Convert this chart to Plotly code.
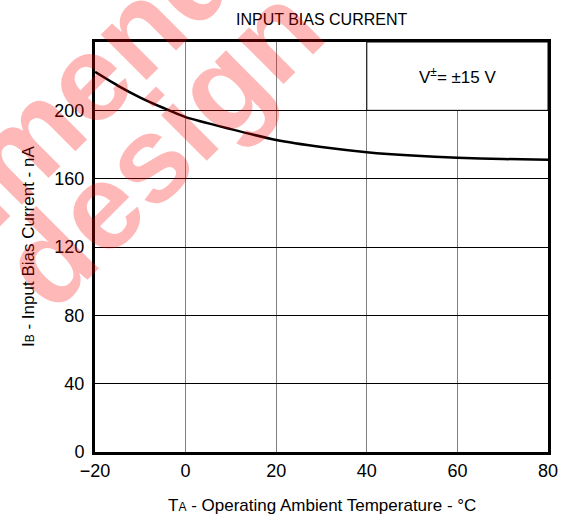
import plotly.graph_objects as go

# Input bias current vs ambient temperature
temp_c = [-20, -15, -10, -5, 0, 10, 20, 30, 40, 50, 60, 70, 80]
bias_na = [222.5, 214.5, 207.5, 201.5, 196.0, 189.0, 182.6, 178.5, 175.5, 173.5, 172.2, 171.5, 171.1]

x_ticks = [-20, 0, 20, 40, 60, 80]
x_tick_text = ["\u221220", "0", "20", "40", "60", "80"]
y_ticks = [0, 40, 80, 120, 160, 200]

FONT = "Arial, Liberation Sans, sans-serif"
WATERMARK = "rgba(255, 0, 0, 0.28)"

# plot area in pixels (left, right, top, bottom)
L, R, T, B = 95, 548, 42, 452


def px_to_paper(px, py):
    return (px - L) / (R - L), (B - py) / (B - T)


fig = go.Figure()
fig.add_trace(go.Scatter(
    x=temp_c,
    y=bias_na,
    mode="lines",
    line=dict(color="black", width=2.5, shape="spline", smoothing=0.6),
    showlegend=False,
    hoverinfo="skip",
))

fig.update_layout(
    width=571,
    height=521,
    plot_bgcolor="white",
    paper_bgcolor="white",
    font=dict(family=FONT, color="black", size=18),
    margin=dict(l=L, r=571 - R, t=T, b=521 - B),
    xaxis=dict(
        range=[-20, 80],
        tickvals=x_ticks,
        ticktext=x_tick_text,
        showgrid=True,
        gridcolor="#808080",
        gridwidth=1,
        zeroline=False,
        showline=True,
        linecolor="black",
        linewidth=3,
        mirror=True,
        ticks="",
        tickfont=dict(size=18),
    ),
    yaxis=dict(
        range=[0, 240],
        tickvals=y_ticks,
        showgrid=True,
        gridcolor="black",
        gridwidth=1,
        zeroline=False,
        showline=True,
        linecolor="black",
        linewidth=3,
        mirror=True,
        ticks="",
        ticklabelstandoff=4,
        tickfont=dict(size=18),
    ),
)

# Condition label box in the top-right corner
fig.add_shape(
    type="rect", xref="x", yref="y",
    x0=40, x1=80, y0=200, y1=240,
    fillcolor="white", line=dict(color="black", width=1),
    layer="between",
)
fig.add_annotation(
    x=60, y=220, xref="x", yref="y",
    text="V<sup>\u00b1</sup>= \u00b115 V",
    showarrow=False, font=dict(size=17),
)

# Title and axis titles
fig.add_annotation(
    x=0.5, y=1.0, xref="paper", yref="paper",
    text="INPUT BIAS CURRENT",
    showarrow=False, font=dict(size=16),
    yanchor="bottom", yshift=12,
)
fig.add_annotation(
    x=0.5, y=0, xref="paper", yref="paper",
    text="T<span style='font-size:12px'>A</span> - Operating Ambient Temperature - \u00b0C",
    showarrow=False, font=dict(size=17),
    yanchor="middle", yshift=-53,
)
fig.add_annotation(
    x=0, y=0.5, xref="paper", yref="paper",
    text="I<span style='font-size:12px'>B</span> - Input Bias Current - nA",
    showarrow=False, font=dict(size=17),
    textangle=-90, xanchor="center", xshift=-67,
)

# Red watermark over the upper-left corner
for word, (cx, cy) in [("recommended", (22, 145)), ("design", (161, 147))]:
    ax, ay = px_to_paper(cx, cy)
    fig.add_annotation(
        x=ax, y=ay, xref="paper", yref="paper",
        text="<b>" + word + "</b>",
        showarrow=False, textangle=-45,
        xanchor="center", yanchor="middle",
        font=dict(size=122, color=WATERMARK),
    )

fig.write_html(
    "out.html",
    config={"displayModeBar": False},
    post_script="document.body.style.margin='0';",
)
